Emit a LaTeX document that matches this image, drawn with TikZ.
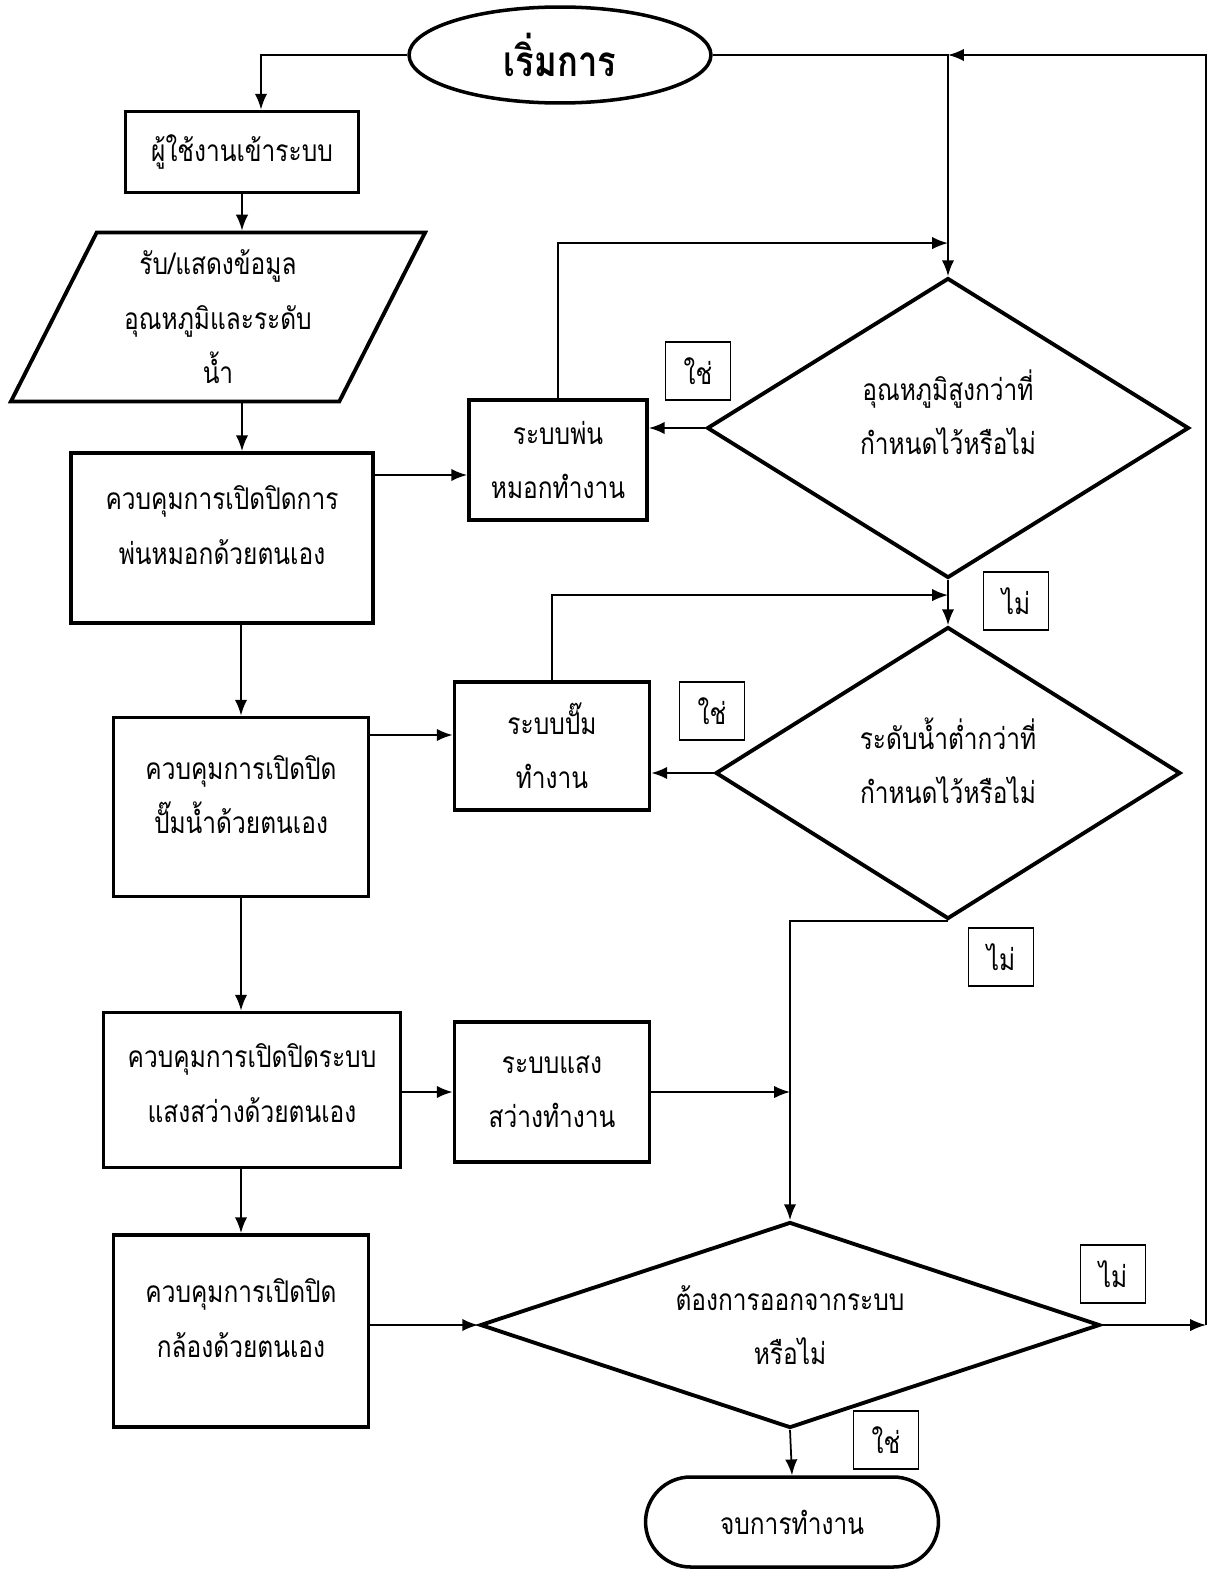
\documentclass[tikz,border=0pt]{standalone}
\usepackage{fontspec}
\newfontfamily\thaifont[Script=Thai,FakeStretch=0.82]{Loma}
\usepackage{tikz}
\usetikzlibrary{arrows.meta,shapes.geometric,shapes.misc,calc}
\tikzset{
  txt/.style={font=\thaifont\fontsize{17}{31}\selectfont,align=center},
  proc/.style={txt,draw,line width=2.2pt,inner sep=2pt},
  io/.style={proc,trapezium,trapezium left angle=64,trapezium right angle=116,
    trapezium stretches=true,minimum width=8.3cm,minimum height=3.38cm},
  cond/.style={proc,diamond,inner sep=0pt},
  term/.style={proc,line width=2pt},
  tag/.style={txt,draw,line width=0.7pt,minimum width=1.3cm,minimum height=1.16cm},
  arr/.style={-{Latex[length=9pt,width=7pt]},line width=1pt},
}

\begin{document}
\begin{tikzpicture}[x=0.02cm,y=-0.02cm]
  \useasboundingbox (0,0) rectangle (1210,1575);
  % left column
  \node[term,ellipse,minimum width=6.04cm,minimum height=1.92cm,
    font=\thaifont\bfseries\fontsize{24}{28}\selectfont] (start) at (560,55) {เริ่มการ};
  \node[proc,minimum width=4.66cm,minimum height=1.62cm] (login) at (242,152) {ผู้ใช้งานเข้าระบบ};
  \node[io] (data) at (218,317) {รับ/แสดงข้อมูล\\อุณหภูมิและระดับ\\น้ำ};
  \node[proc,minimum width=6.04cm,minimum height=3.4cm,text depth=15pt] (mistman) at (222,538)
    {ควบคุมการเปิดปิดการ\\พ่นหมอกด้วยตนเอง};
  \node[proc,minimum width=5.1cm,minimum height=3.58cm,text depth=14pt] (pumpman) at (241,807)
    {ควบคุมการเปิดปิด\\ปั๊มน้ำด้วยตนเอง};
  \node[proc,minimum width=5.94cm,minimum height=3.1cm,text depth=8pt] (lightman) at (252,1090)
    {ควบคุมการเปิดปิดระบบ\\แสงสว่างด้วยตนเอง};
  \node[proc,minimum width=5.1cm,minimum height=3.84cm,text depth=15pt] (camman) at (241,1331)
    {ควบคุมการเปิดปิด\\กล้องด้วยตนเอง};
  % working systems
  \node[proc,minimum width=3.56cm,minimum height=2.4cm] (mist) at (558,460) {ระบบพ่น\\หมอกทำงาน};
  \node[proc,minimum width=3.9cm,minimum height=2.56cm] (pump) at (552,746) {ระบบปั๊ม\\ทำงาน};
  \node[proc,minimum width=3.9cm,minimum height=2.8cm] (light) at (552,1092) {ระบบแสง\\สว่างทำงาน};
  % decisions
  \node[cond,minimum width=9.64cm,minimum height=6cm,text depth=18pt] (temp) at (948,428)
    {อุณหภูมิสูงกว่าที่\\กำหนดไว้หรือไม่};
  \node[cond,minimum width=9.3cm,minimum height=5.84cm,text depth=14pt] (level) at (948,773)
    {ระดับน้ำต่ำกว่าที่\\กำหนดไว้หรือไม่};
  \node[cond,aspect=3,minimum width=12.4cm,minimum height=4.12cm] (quit) at (790,1325)
    {ต้องการออกจากระบบ\\หรือไม่};
  \node[term,rounded rectangle,minimum width=6cm,minimum height=1.8cm] (stop) at (792,1522) {จบการทำงาน};
  % yes / no tags
  \node[tag] (yes1) at (698,371) {ใช่};
  \node[tag] (no1) at (1016,601) {ไม่};
  \node[tag] (yes2) at (712,711) {ใช่};
  \node[tag] (no2) at (1001,957) {ไม่};
  \node[tag] (no3) at (1113,1274) {ไม่};
  \node[tag] (yes3) at (886,1440) {ใช่};
  % helper points
  \coordinate (rt) at (1206,1325);
  \coordinate (j1) at ($(temp.north)+(0,-33)$);
  \coordinate (j2) at ($(level.north)+(0,-30)$);
  \coordinate (s1) at ($(mist.west)+(0,15)$);
  \coordinate (s2) at ($(pump.west)+(0,-11)$);
  % connectors
  \draw[arr] (start.west) -| ([xshift=0.38cm]login.north);
  \draw[arr] (login.south) -- (login.south |- data.north);
  \draw[arr] (login.south |- data.south) -- (login.south |- mistman.north);
  \draw[arr] (mistman.south -| pumpman.north) -- (pumpman.north);
  \draw[arr] (pumpman.south) -- (pumpman.south |- lightman.north);
  \draw[arr] (lightman.south -| camman.north) -- (camman.north);
  \draw[arr] (mistman.east |- s1) -- (s1);
  \draw[arr] (pumpman.east |- s2) -- (s2);
  \draw[arr] (lightman.east |- light.west) -- (light.west);
  \draw[arr] (camman.east |- quit.west) -- (quit.west);
  \draw[arr] (start.east) -| (temp.north);
  \draw[arr] (mist.north) |- (j1);
  \draw[arr] (temp.west) -- (temp.west -| mist.east);
  \draw[arr] (temp.south) -- (level.north);
  \draw[arr] (pump.north) |- (j2);
  \draw[arr] (level.west) -- (level.west -| pump.east);
  \draw[arr] (level.south) -| (quit.north);
  \draw[arr] (light.east) -- (light.east -| quit.north);
  \draw[arr] (quit.east) -- (rt);
  \draw[arr] (rt) |- (temp.north |- start.east);
  \draw[arr] (quit.south) -- (stop.north);
\end{tikzpicture}
\end{document}
